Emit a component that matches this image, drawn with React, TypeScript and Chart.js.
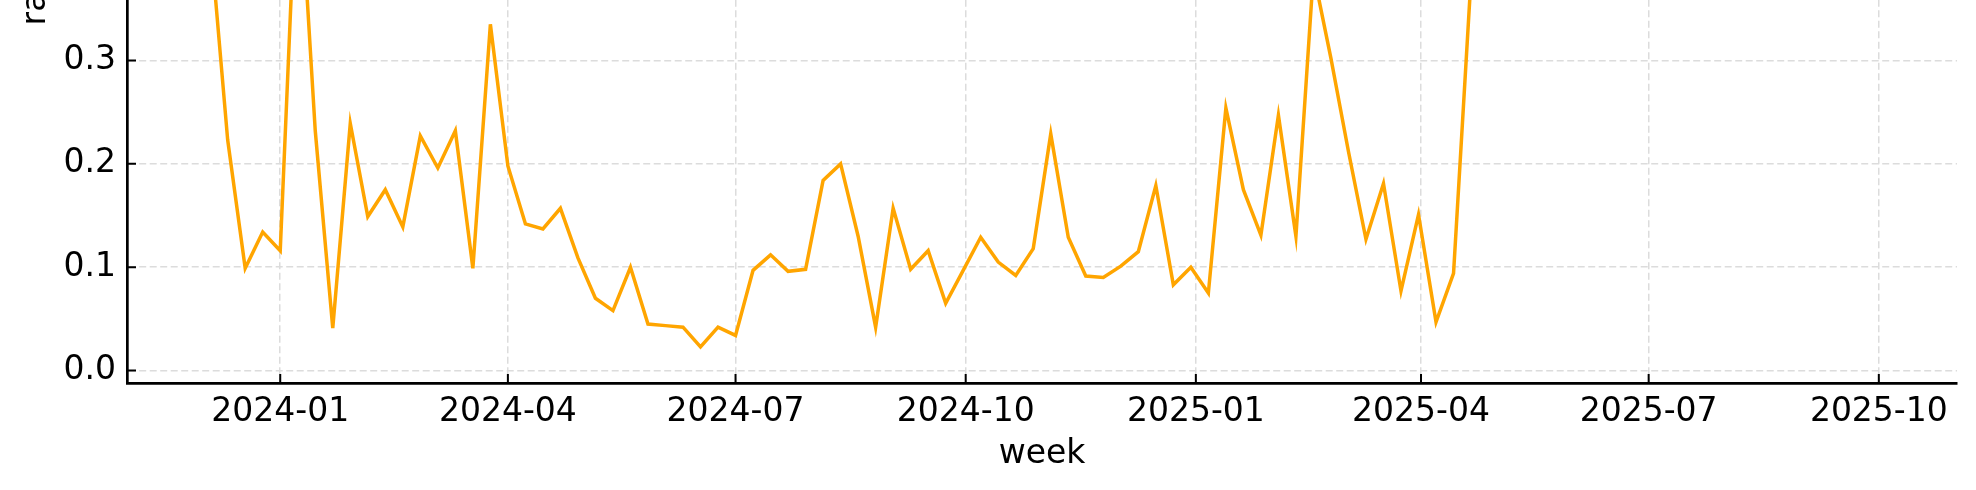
import React, { useEffect, useRef } from "react";
import { Chart, registerables } from "chart.js";

Chart.register(...registerables);

// ---- data ----
const FIRST_WEEK = "2023-12-04"; // Monday of the first weekly bucket
const RATE: number[] = [
  0.42, 0.223, 0.099, 0.134, 0.116, 0.51, 0.232, 0.041, 0.239, 0.149,
  0.175, 0.139, 0.227, 0.196, 0.232, 0.099, 0.335, 0.198, 0.142, 0.137,
  0.157, 0.109, 0.07, 0.058, 0.1, 0.045, 0.0435, 0.042, 0.023, 0.042,
  0.034, 0.097, 0.112, 0.096, 0.098, 0.184, 0.2, 0.13, 0.042, 0.157,
  0.098, 0.116, 0.065, 0.097, 0.129, 0.105, 0.092, 0.118, 0.229, 0.129,
  0.0915, 0.09, 0.101, 0.115, 0.179, 0.083, 0.1, 0.075, 0.254, 0.175,
  0.131, 0.247, 0.13, 0.385, 0.302, 0.212, 0.127, 0.181, 0.077, 0.151,
  0.047, 0.094, 0.38, 0.52, 0.61, 0.58, 0.66, 0.71, 0.63, 0.55,
  0.6, 0.68, 0.57, 0.49, 0.62, 0.59, 0.66, 0.54, 0.47, 0.58,
  0.64, 0.52, 0.45, 0.57, 0.61, 0.5,
];
const X_TICK_LABELS = [
  "2024-01", "2024-04", "2024-07", "2024-10",
  "2025-01", "2025-04", "2025-07", "2025-10",
];
const Y_TICKS = [0, 0.1, 0.2, 0.3, 0.4, 0.5, 0.6, 0.7];
const X_LIMITS = ["2023-10-31T18:00:00Z", "2025-11-01T06:00:00Z"];
const Y_LIMITS = [-0.012, 0.7447];
const X_TITLE = "week";
const Y_TITLE = "rate";

const DAY = 86400000;
const FONT = "'DejaVu Sans', 'Liberation Sans', sans-serif";
const FONT_SIZE = 33;

const monthStamp = (s: string) => {
  const [y, m] = s.split("-").map(Number);
  return Date.UTC(y, m - 1, 1);
};

const inwardTicks = {
  id: "inwardTicks",
  afterDraw(chart: any) {
    const { ctx, chartArea, scales } = chart;
    ctx.save();
    ctx.strokeStyle = "#000";
    ctx.lineWidth = 2;
    ctx.beginPath();
    scales.x.ticks.forEach((t: any) => {
      const px = scales.x.getPixelForValue(t.value);
      ctx.moveTo(px, chartArea.bottom);
      ctx.lineTo(px, chartArea.bottom - 9);
    });
    scales.y.ticks.forEach((t: any) => {
      const py = scales.y.getPixelForValue(t.value);
      ctx.moveTo(chartArea.left, py);
      ctx.lineTo(chartArea.left + 9, py);
    });
    ctx.stroke();
    ctx.restore();
  },
};

export default function App() {
  const ref = useRef<HTMLCanvasElement | null>(null);

  useEffect(() => {
    if (!ref.current) return;
    const start = Date.parse(FIRST_WEEK + "T00:00:00Z");
    const points = RATE.map((v, i) => ({ x: start + i * 7 * DAY, y: v }));
    const xTickValues = X_TICK_LABELS.map(monthStamp);

    const chart = new Chart(ref.current, {
      type: "line",
      data: {
        datasets: [
          {
            data: points,
            borderColor: "#FFA500",
            borderWidth: 3.5,
            pointRadius: 0,
            tension: 0,
            fill: false,
          },
        ],
      },
      options: {
        animation: false,
        responsive: false,
        maintainAspectRatio: false,
        events: [],
        layout: { padding: { top: 26, right: 19, left: 0, bottom: 0 } },
        plugins: { legend: { display: false }, tooltip: { enabled: false } },
        scales: {
          x: {
            type: "linear",
            min: Date.parse(X_LIMITS[0]),
            max: Date.parse(X_LIMITS[1]),
            afterBuildTicks: (scale: any) => {
              scale.ticks = xTickValues.map((v) => ({ value: v }));
            },
            afterFit: (scale: any) => {
              scale.height = 107;
            },
            ticks: {
              autoSkip: false,
              maxRotation: 0,
              minRotation: 0,
              padding: 10,
              color: "#000",
              font: { family: FONT, size: FONT_SIZE },
              callback: (value: any) => {
                const i = xTickValues.indexOf(Number(value));
                return i >= 0 ? X_TICK_LABELS[i] : "";
              },
            },
            grid: {
              color: "#dcdcdc",
              lineWidth: 1.5,
              drawTicks: false,
            },
            border: { display: true, color: "#000", width: 2.7, dash: [7, 3.5] },
            title: {
              display: true,
              text: X_TITLE,
              color: "#000",
              font: { family: FONT, size: FONT_SIZE },
              padding: { top: 0, bottom: 16 },
            },
          },
          y: {
            type: "linear",
            min: Y_LIMITS[0],
            max: Y_LIMITS[1],
            afterBuildTicks: (scale: any) => {
              scale.ticks = Y_TICKS.map((v) => ({ value: v }));
            },
            afterFit: (scale: any) => {
              scale.width = 127;
            },
            ticks: {
              padding: 11,
              color: "#000",
              font: { family: FONT, size: FONT_SIZE },
              callback: (value: any) => Number(value).toFixed(1),
            },
            grid: {
              color: "#dcdcdc",
              lineWidth: 1.5,
              drawTicks: false,
            },
            border: { display: true, color: "#000", width: 2.7, dash: [7, 3.5] },
            title: {
              display: true,
              text: Y_TITLE,
              color: "#000",
              font: { family: FONT, size: FONT_SIZE },
              padding: { top: 17, bottom: 0 },
            },
          },
        },
      },
      plugins: [inwardTicks],
    });
    return () => chart.destroy();
  }, []);

  return (
    <div
      style={{
        position: "absolute",
        left: 0,
        top: -430,
        width: 1976,
        height: 920,
        background: "#fff",
      }}
    >
      <canvas ref={ref} width={1976} height={920} style={{ display: "block" }} />
    </div>
  );
}
